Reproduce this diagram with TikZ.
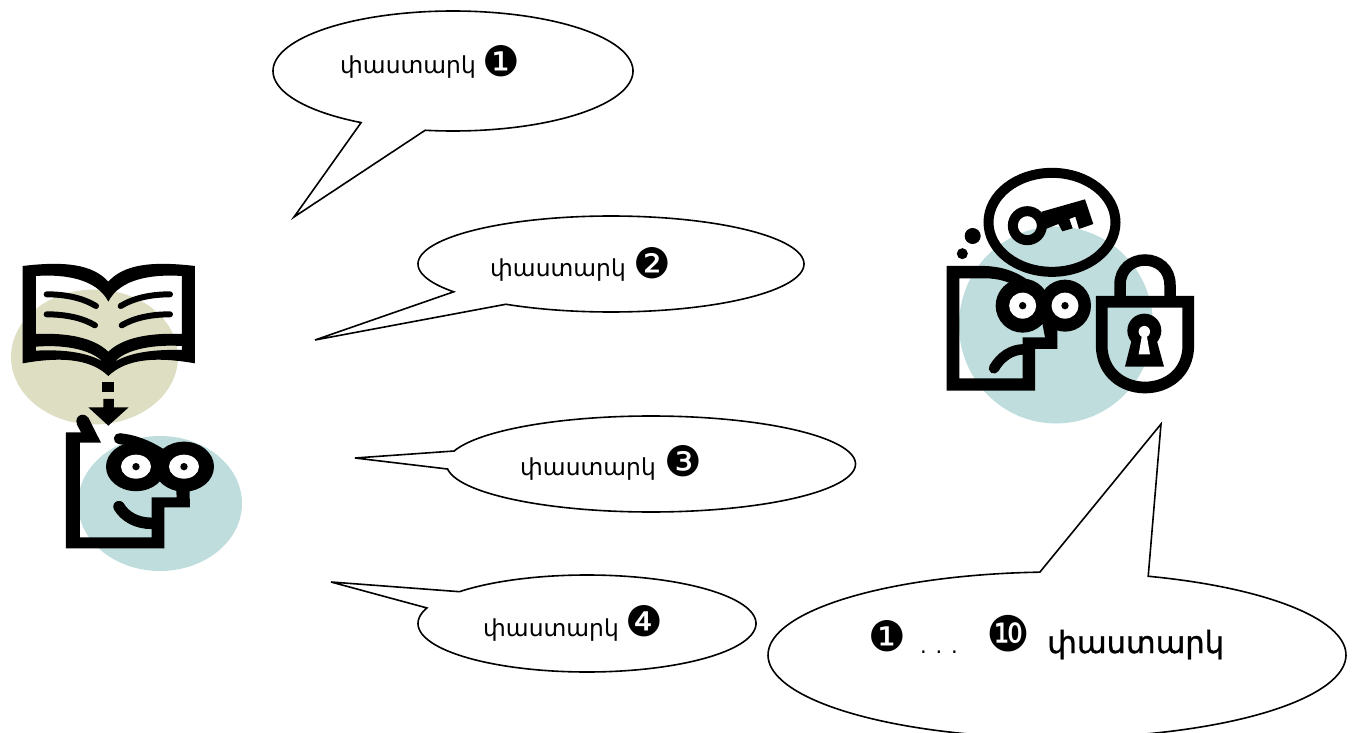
\documentclass[tikz,border=0pt]{standalone}
\usepackage{fontspec}
\setmainfont{DejaVu Sans}
\tikzset{
  bubble/.style={draw=black,line width=1.6pt,line join=miter},
  arglabel/.style={anchor=base west,inner sep=0pt,font=\fontsize{23.4}{24}\selectfont},
  bigarglabel/.style={anchor=base west,inner sep=0pt,font=\fontsize{30.5}{31}\selectfont\addfontfeatures{FakeBold=1}},
  argmark/.style={inner sep=0pt,font=\fontsize{42}{42}\selectfont},
  inkfill/.style={fill=black,draw=none},
  inkline/.style={draw=black,line cap=round,line width=#1},
  eyewhite/.style={fill=white,draw=none}
}
\definecolor{olivepatch}{RGB}{222,223,194}
\definecolor{tealpatch}{RGB}{191,221,221}
% ellipse centre x,y; radii; arc from angle to angle; tip x,y
\newcommand{\speechbubble}[8]{%
  \draw[bubble] plot[domain=#5:#6,samples=160,smooth] ({#1+#3*cos(\x)},{#2+#4*sin(\x)}) -- (#7,#8) -- cycle;}
\begin{document}
\begin{tikzpicture}[x=1pt,y=-1pt]
  \useasboundingbox (0,0) rectangle (1353,733);

  % patches behind the figures
  \fill[olivepatch] (94.5,357) ellipse [x radius=83.5pt,y radius=67.5pt];
  \fill[tealpatch] (160,503.5) ellipse [x radius=82pt,y radius=67.5pt];
  \fill[tealpatch] (1056,325) ellipse [x radius=97pt,y radius=98.5pt];

  % bubbles
  \speechbubble{453}{71}{180}{60}{120.7}{458.9}{294}{217}
  \speechbubble{611}{264}{193}{48}{144.6}{483}{315}{340}
  \speechbubble{651}{464}{204.5}{48}{195.7}{534}{355}{458}
  \speechbubble{587}{623.5}{169}{48.5}{221}{558.7}{331}{582}
  \speechbubble{1057}{655}{289}{83}{288.4}{626.6}{1161}{424}

  \node[arglabel] (arga) at (340,74) {փաստարկ};
  \node[argmark] (marka) at (501,61) {❶};
  \node[arglabel] (argb) at (490,276) {փաստարկ};
  \node[argmark] (markb) at (652,263) {❷};
  \node[arglabel] (argc) at (520,475) {փաստարկ};
  \node[argmark] (markc) at (683,461) {❸};
  \node[arglabel] (argd) at (483,636) {փաստարկ};
  \node[argmark] (markd) at (644,621) {❹};
  \node[argmark] (marke) at (887,636) {❶};
  \node[anchor=base,inner sep=0pt,font=\fontsize{21}{21}\selectfont] (dots) at (939,653) {. . .};
  \node[inner sep=0pt,font=\fontsize{49}{49}\selectfont] (markf) at (1008,634) {❿};
  \node[bigarglabel] (arge) at (1047,653) {փաստարկ};

  % reader with book, in 3x crop units
  \begin{scope}[x=0.33333pt,y=-0.33333pt,shift={(0pt,-250pt)}]
    \fill[inkfill,even odd rule]
      (68,48) .. controls (200,32) and (280,45) .. (325,95)
      .. controls (370,45) and (450,32) .. (585,48) -- (585,340)
      .. controls (470,320) and (380,325) .. (325,378)
      .. controls (270,325) and (180,320) .. (68,340) -- cycle
      (108,78) .. controls (190,72) and (290,85) .. (325,155)
      .. controls (360,85) and (460,72) .. (546,78) -- (546,252)
      .. controls (450,248) and (370,262) .. (325,305)
      .. controls (280,262) and (200,248) .. (108,252) -- cycle
      (108,290) .. controls (210,282) and (280,305) .. (308,335)
      .. controls (260,305) and (180,298) .. (108,302) -- cycle
      (546,288) .. controls (440,282) and (370,305) .. (345,335)
      .. controls (395,305) and (470,298) .. (546,300) -- cycle;
    \draw[inkline=6pt] (140,133) .. controls (200,133) and (250,145) .. (288,168);
    \draw[inkline=6pt] (140,193) .. controls (200,193) and (250,205) .. (285,226);
    \draw[inkline=6pt] (510,133) .. controls (450,133) and (400,145) .. (362,168);
    \draw[inkline=6pt] (510,193) .. controls (450,193) and (400,205) .. (365,226);
    \fill[inkfill] (306,396) rectangle (342,426);
    \fill[inkfill] (310,447) -- (342,447) -- (342,472) -- (386,472) -- (325,527) -- (265,472) -- (310,472) -- cycle;
    \fill[inkfill] (198,547) -- (243,547) -- (230,522) -- (265,503) -- (303,578) -- (240,578) -- (240,862) -- (455,862) -- (455,742)
      -- (530,742) -- (528,705) -- (568,705) -- (570,772) -- (493,772) -- (493,895) -- (198,895) -- cycle;
    \fill[inkfill] (248,513) circle [radius=6.3pt];
    \fill[inkfill] (408,650) ellipse [x radius=30pt,y radius=24.5pt];
    \fill[inkfill] (552,650) ellipse [x radius=30pt,y radius=25pt];
    \fill[eyewhite] (408,650) ellipse [x radius=15pt,y radius=12pt];
    \fill[eyewhite] (552,650) ellipse [x radius=15pt,y radius=12pt];
    \fill[inkfill] (408,650) circle [radius=3.7pt];
    \fill[inkfill] (552,650) circle [radius=3.7pt];
    \draw[inkline=11pt] (358,566) .. controls (400,570) and (440,585) .. (480,610);
    \draw[inkline=11.5pt] (357,770) .. controls (375,800) and (410,820) .. (455,820);
  \end{scope}

  % thinker with key and lock, in 3x crop units
  \begin{scope}[x=0.33333pt,y=-0.33333pt,shift={(930pt,-160pt)}]
    \draw[line width=10pt] (366,187) ellipse [x radius=63.5pt,y radius=49.5pt];
    \draw[line width=10pt] (292,197) circle [radius=14.5pt];
    \fill[inkfill] (335,155) -- (465,118) -- (490,192) -- (447,207) -- (436,170) -- (418,177) -- (428,205) -- (397,214) -- (385,192) -- (340,210) -- cycle;
    \fill[inkfill] (128,228) circle [radius=8pt];
    \fill[inkfill] (97,281) circle [radius=5.5pt];
    \fill[inkfill] (50,318) -- (165,318) .. controls (225,320) and (270,340) .. (310,372) -- (280,390)
      .. controls (240,365) and (205,355) .. (165,355) -- (88,355) -- (88,655) -- (278,655) -- (278,532) -- (345,532) -- (335,480) -- (382,480)
      -- (382,567) -- (315,567) -- (315,692) -- (50,692) -- cycle;
    \fill[inkfill] (278,437) circle [radius=27pt];
    \fill[inkfill] (405,437) circle [radius=26pt];
    \fill[eyewhite] (278,437) ellipse [x radius=13.5pt,y radius=13pt];
    \fill[eyewhite] (405,437) ellipse [x radius=13.5pt,y radius=13pt];
    \fill[inkfill] (278,437) circle [radius=3.7pt];
    \fill[inkfill] (405,437) circle [radius=3.7pt];
    \draw[inkline=10.5pt] (192,625) .. controls (212,590) and (245,568) .. (282,568);
    \draw[line width=11.5pt] (570,412) -- (570,375) .. controls (570,275) and (720,275) .. (720,375) -- (720,412);
    \draw[line width=11.7pt,line join=miter] (515,425) -- (775,425) -- (775,555) .. controls (775,725) and (515,725) .. (515,555) -- cycle;
    \fill[inkfill] (643,512) circle [radius=17pt];
    \fill[inkfill] (605,540) -- (680,540) -- (702,620) -- (585,620) -- cycle;
    \fill[eyewhite] (643,515) circle [radius=5.7pt];
    \fill[eyewhite] (636,525) -- (650,525) -- (660,583) -- (626,583) -- cycle;
  \end{scope}
\end{tikzpicture}
\end{document}
